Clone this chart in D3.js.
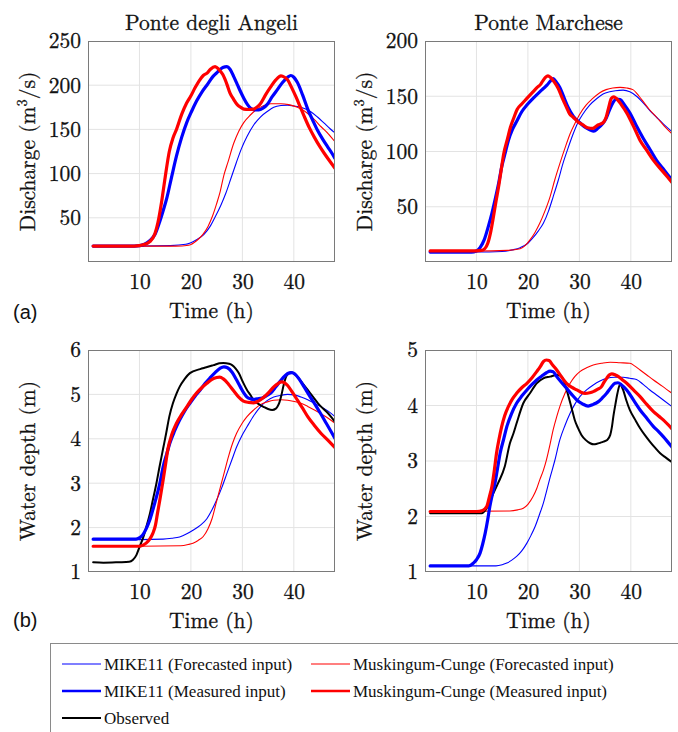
<!DOCTYPE html>
<html>
<head>
<meta charset="utf-8">
<script src="https://cdn.jsdelivr.net/npm/d3@7"></script>
<style>
  html, body { margin: 0; padding: 0; background: #fff; }
  svg { display: block; }
</style>
</head>
<body>
<svg id="chart" width="678" height="732"></svg>
<script>
// ---- Axis ticks ----
const hourTicks = [10, 20, 30, 40];
const angeliQTicks = [50, 100, 150, 200, 250];
const marcheseQTicks = [50, 100, 150, 200];
const angeliHTicks = [1, 2, 3, 4, 5, 6];
const marcheseHTicks = [1, 2, 3, 4, 5];

// ---- Ponte degli Angeli, discharge (m3/s): [hour, value] ----
const angeliQ_mikeFc = [[1,18],[10,18],[16,18.5],[19,20],[21,25],[22.5,31],[23.7,40],[24.8,52],[25.8,64],[26.8,78],[27.8,95],[28.8,112],[29.8,128],[30.9,142],[32.2,155],[33.5,164],[34.9,170.5],[36.1,175],[37.5,177],[38.8,177.5],[40,176.5],[41.4,175],[43.3,170],[44.6,164],[45.9,157],[47,151],[48,146]];
const angeliQ_mcFc = [[1,18],[10,18],[17,18],[19.6,19],[21.1,24],[22.3,31],[23.3,40],[24.2,52],[25,66],[25.7,80],[26.4,98],[27.2,113],[28.3,134],[29.3,148],[30.3,158],[31.5,166],[32.9,173],[34.2,177],[35.5,179],[37.5,179],[39,178],[40.7,175],[42.7,168],[44,161],[45.3,153],[46.7,145],[48,136]];
const angeliQ_mikeMs = [[1,18],[9,18],[10,18.5],[11,20],[12,24],[13,31],[13.9,45],[14.6,58],[15.3,72],[16.2,95],[17.2,120],[18.2,141],[19.2,158],[20.1,170],[21.1,182],[22.1,192],[23.1,200],[24.3,210],[25.2,215],[26.2,220],[27,221],[27.6,218],[28.3,210],[29,201],[29.7,192],[30.3,185],[31,178],[31.6,174],[32.4,172],[33.2,172],[34,174],[34.8,178],[35.8,187],[36.8,195],[37.8,203],[38.8,209],[39.4,211],[40,209],[40.7,203],[41.7,189],[42.7,173],[43.7,160],[44.6,149],[45.6,139],[46.6,130],[47.4,123],[48,117]];
const angeliQ_mcMs = [[1,18],[9,18],[10,18.5],[11,20],[12,23],[13,32],[13.6,45],[14.3,68],[15,96],[15.8,125],[16.5,140],[17.2,150],[18.2,167],[19.1,179],[20,188],[20.8,197],[21.6,205],[22.4,211],[23.2,214],[23.8,218],[24.7,221],[25.4,218],[26.2,212],[27,201],[27.6,191],[28.3,184],[29,178],[29.7,175],[30.3,173],[31.2,172.5],[32.2,173],[33,176],[33.5,179],[34.5,189],[35.5,198],[36.5,206],[37.5,210.5],[38.2,209],[38.8,206],[39.6,197],[40.4,187],[41.2,176],[42,165],[43,152],[44,141],[45,131],[45.9,123],[47,114],[48,106]];

// ---- Ponte Marchese, discharge (m3/s) ----
const marcheseQ_mikeFc = [[1,9],[10,9],[15,9.5],[17,11],[18.5,13],[20,17],[21,22],[22,28],[23,35],[24,46],[24.9,59],[25.9,74],[26.8,89],[27.8,103],[28.8,116],[29.7,126],[30.7,134],[32,142],[33.4,148],[34.6,152],[35.9,154],[37,155],[38.5,155.5],[39.8,154],[41.1,150],[42.4,144],[43.7,137],[45,131],[46.3,125],[48,118]];
const marcheseQ_mcFc = [[1,10],[10,10],[16,10.5],[18.5,12],[19.5,15],[20.4,20],[21.4,27],[22.3,35],[23.3,46],[24.3,59],[25.2,74],[26.2,89],[27.2,103],[28.2,116],[29.2,126],[30.1,134],[31.3,142],[32.6,148],[33.9,153],[35.2,156],[36.5,157.5],[37.9,158],[39.2,157.5],[40.4,156],[41.6,150],[42.6,144],[43.6,138],[45,131],[46.5,123],[48,116]];
const marcheseQ_mikeMs = [[1,9],[9,9],[10,10],[10.7,13],[11.5,20],[12.3,32],[13,44],[13.6,56],[14.3,71],[14.9,86],[15.6,99],[16.2,110],[17,120],[17.9,128],[18.8,136],[19.8,142],[21,148],[22.3,154],[23,157],[23.7,160],[24.4,164],[24.9,166],[25.5,163],[26.2,158],[27,149],[27.8,140],[28.8,132],[30.1,126],[31.1,122],[32.1,119.5],[32.8,118.5],[33.6,121],[34.5,125],[35.2,130],[35.8,137],[36.5,144],[37.2,147.5],[37.9,147],[38.8,142],[39.8,135],[41,124],[42.4,112],[43.7,102],[45,92],[46.5,83],[48,74]];
const marcheseQ_mcMs = [[1,10],[9,10],[11,10.5],[11.6,12],[12.2,17],[12.8,28],[13.3,41],[13.8,55],[14.3,68],[14.8,83],[15.3,98],[16,111],[16.6,122],[17.3,131],[17.9,138],[18.8,143],[19.8,148],[20.8,153],[21.8,158],[22.5,161],[22.9,164],[23.4,167],[23.9,168.5],[24.4,167],[25.1,163],[25.9,157],[26.7,148],[27.5,140],[28.1,134],[28.8,131],[29.7,127],[30.7,124],[31.6,121.5],[32.6,121],[33.6,124],[34.6,126],[35.2,131],[35.7,140],[36.2,148],[36.7,149.5],[37.2,148],[38.2,142],[39.2,135],[40.5,123],[41.8,110],[43.1,101],[44.4,92],[46.2,82],[48,72]];

// ---- Ponte degli Angeli, water depth (m) ----
const angeliH_obs = [[1,1.22],[3,1.21],[6,1.22],[8,1.23],[8.7,1.27],[9.4,1.38],[10,1.56],[10.7,1.77],[11.3,2.0],[12,2.3],[12.6,2.62],[13.3,3.0],[13.9,3.37],[14.6,3.78],[15.2,4.13],[15.8,4.5],[16.5,4.8],[17.2,5.02],[17.8,5.17],[18.8,5.35],[19.8,5.48],[21.8,5.57],[23,5.61],[24.4,5.66],[25.5,5.7],[26.3,5.71],[27.4,5.69],[28,5.66],[28.7,5.58],[29.3,5.48],[30.1,5.28],[30.9,5.1],[31.6,4.98],[32.2,4.87],[33.2,4.78],[34.1,4.72],[35,4.67],[35.8,4.65],[36.5,4.68],[36.8,4.72],[37.2,4.82],[37.5,4.94],[38,5.2],[38.5,5.4],[39,5.47],[39.4,5.5],[40,5.47],[40.7,5.4],[41.7,5.25],[42.7,5.1],[43.7,4.95],[44.7,4.8],[45.6,4.69],[46.6,4.58],[47.4,4.47],[48,4.38]];
const angeliH_mikeFc = [[1,1.73],[10,1.73],[14.6,1.74],[16.3,1.76],[17.8,1.79],[19.2,1.86],[20.4,1.94],[21.8,2.05],[23.1,2.2],[24.1,2.4],[25,2.62],[26,2.9],[27,3.22],[28,3.54],[28.9,3.82],[29.9,4.07],[30.9,4.27],[32.2,4.52],[33.5,4.72],[34.8,4.86],[36.1,4.94],[37.5,4.98],[38.8,5.0],[40.1,4.99],[41.4,4.94],[42.7,4.88],[44,4.8],[45.3,4.72],[46.6,4.63],[48,4.5]];
const angeliH_mcFc = [[1,1.58],[10,1.58],[18,1.59],[19.5,1.62],[20.4,1.65],[21.4,1.71],[22.4,1.8],[23.3,1.97],[24.1,2.2],[24.9,2.55],[25.7,2.9],[26.5,3.25],[27.3,3.6],[28.1,3.9],[28.9,4.13],[29.9,4.34],[30.9,4.5],[32.2,4.65],[33.5,4.77],[34.8,4.83],[36.1,4.87],[37.5,4.88],[38.8,4.87],[40.1,4.84],[41.4,4.8],[42.7,4.73],[44,4.65],[45.3,4.56],[46.6,4.47],[48,4.35]];
const angeliH_mikeMs = [[1,1.74],[9,1.74],[9.6,1.75],[10.6,1.83],[11.3,1.97],[12,2.17],[12.6,2.4],[13.3,2.69],[14,3.02],[14.6,3.37],[15.3,3.66],[15.9,3.9],[16.8,4.17],[17.8,4.42],[18.8,4.63],[19.8,4.8],[20.8,4.96],[21.8,5.1],[22.7,5.24],[23.7,5.37],[24.7,5.49],[25.7,5.59],[26.4,5.62],[27.1,5.6],[28,5.5],[28.8,5.34],[29.6,5.17],[30.3,5.03],[30.9,4.94],[31.6,4.9],[32.2,4.89],[33,4.9],[33.9,4.92],[34.7,4.97],[35.5,5.03],[36.5,5.17],[37.5,5.32],[38.3,5.42],[39,5.48],[39.6,5.49],[40.2,5.46],[41,5.35],[42,5.17],[43,4.98],[44,4.8],[45.2,4.57],[46.3,4.35],[47.2,4.17],[48,4.01]];
const angeliH_mcMs = [[1,1.58],[10,1.58],[10.6,1.6],[11.3,1.65],[12,1.74],[12.6,1.87],[13.1,2.05],[13.5,2.32],[14,2.65],[14.6,3.07],[15.1,3.45],[15.5,3.75],[16.3,4.1],[17.2,4.35],[18.2,4.55],[19.2,4.72],[20.1,4.88],[21.1,5.03],[22.1,5.15],[23.1,5.25],[24.1,5.34],[25,5.38],[25.6,5.39],[26.3,5.35],[27.3,5.23],[28.3,5.08],[29.2,4.95],[30.2,4.85],[31.2,4.82],[32.2,4.81],[33.1,4.85],[34.1,4.93],[35.1,5.04],[36.1,5.17],[37,5.25],[37.6,5.28],[38.2,5.26],[38.8,5.2],[39.7,5.05],[40.7,4.87],[41.7,4.69],[42.7,4.5],[44,4.3],[45.3,4.12],[46.7,3.96],[48,3.8]];

// ---- Ponte Marchese, water depth (m) ----
const marcheseH_obs = [[1,2.06],[11,2.06],[12,2.15],[13,2.36],[14.2,2.6],[15.5,2.9],[16.5,3.32],[17.2,3.5],[17.8,3.68],[19.1,4.04],[20.4,4.22],[21.7,4.4],[23,4.49],[24.3,4.52],[25.6,4.55],[26.3,4.54],[26.9,4.46],[27.4,4.32],[27.9,4.16],[28.5,3.95],[29.1,3.74],[29.7,3.6],[30.4,3.47],[31.2,3.38],[32.1,3.32],[32.8,3.3],[33.4,3.31],[34.1,3.33],[34.7,3.35],[35.4,3.38],[36,3.47],[36.3,3.6],[36.6,3.8],[37,4.02],[37.4,4.22],[37.9,4.38],[38.5,4.28],[39.1,4.1],[39.8,3.92],[40.8,3.75],[41.8,3.59],[42.7,3.47],[43.7,3.35],[44.7,3.24],[45.7,3.14],[46.8,3.06],[48,2.98]];
const marcheseH_mikeFc = [[1,1.11],[13.8,1.11],[15,1.13],[15.9,1.16],[16.8,1.21],[17.8,1.28],[18.8,1.38],[19.8,1.52],[20.6,1.66],[21.4,1.82],[22.3,2.05],[23,2.24],[23.6,2.45],[24.3,2.7],[25.2,3.0],[26.2,3.38],[27.2,3.64],[28.2,3.86],[29.1,4.02],[30.1,4.16],[31.4,4.28],[32.7,4.37],[34,4.44],[35.3,4.49],[36.9,4.51],[38.5,4.51],[39.8,4.49],[41.1,4.47],[42.4,4.38],[43.7,4.28],[45,4.19],[46.3,4.1],[48,3.98]];
const marcheseH_mcFc = [[1,2.09],[16.5,2.1],[18,2.12],[19.1,2.15],[20,2.22],[21,2.36],[21.7,2.5],[22.3,2.66],[23,2.83],[23.6,3.02],[24.3,3.3],[24.9,3.56],[25.6,3.8],[26.2,3.98],[27.2,4.22],[28.2,4.4],[29.1,4.52],[30.1,4.61],[31.4,4.68],[32.7,4.73],[34.3,4.76],[36,4.78],[37.9,4.77],[39.8,4.76],[40.8,4.71],[41.8,4.64],[43.1,4.55],[44.4,4.46],[46.1,4.35],[48,4.22]];
const marcheseH_mikeMs = [[1,1.11],[8.5,1.11],[9.4,1.16],[10,1.22],[10.7,1.34],[11.2,1.5],[11.7,1.7],[12.2,1.95],[12.6,2.18],[13.1,2.4],[13.6,2.6],[14.1,2.87],[14.6,3.14],[15.3,3.4],[15.9,3.62],[16.8,3.85],[17.8,4.04],[18.8,4.17],[19.8,4.28],[20.8,4.38],[21.7,4.46],[22.7,4.53],[23.6,4.59],[24.3,4.62],[24.9,4.61],[25.6,4.52],[26.5,4.42],[27.5,4.31],[28.5,4.2],[29.5,4.1],[30.6,4.03],[31.7,3.99],[32.7,4.02],[33.7,4.07],[34.5,4.14],[35.3,4.22],[36.1,4.32],[36.9,4.4],[37.5,4.41],[38.2,4.37],[39.2,4.28],[40.5,4.1],[41.8,3.92],[43.1,3.77],[44.4,3.62],[45.4,3.53],[46.3,3.44],[48,3.25]];
const marcheseH_mcMs = [[1,2.09],[10,2.09],[11.2,2.11],[12,2.18],[12.5,2.35],[13,2.54],[13.5,2.85],[13.9,3.14],[14.4,3.4],[14.9,3.62],[15.5,3.82],[16.2,3.98],[17,4.12],[17.8,4.22],[18.8,4.32],[19.8,4.4],[20.8,4.5],[21.7,4.61],[22.4,4.7],[23,4.79],[23.6,4.82],[24.1,4.81],[24.8,4.73],[25.6,4.64],[26.5,4.52],[27.5,4.4],[28.5,4.33],[29.5,4.28],[30.3,4.24],[31.1,4.22],[32,4.23],[32.7,4.25],[33.5,4.29],[34.3,4.34],[34.8,4.42],[35.3,4.49],[35.8,4.55],[36.3,4.57],[37,4.55],[37.6,4.52],[38.4,4.46],[39.2,4.4],[40.5,4.28],[41.8,4.16],[43.1,4.02],[44.4,3.89],[45.4,3.81],[46.3,3.74],[48,3.58]];

// ---- Series styling (legend order) ----
const seriesNames = ["MIKE11 (Forecasted input)", "Muskingum-Cunge (Forecasted input)", "MIKE11 (Measured input)", "Muskingum-Cunge (Measured input)", "Observed"];
const seriesColors = ["#0000ff", "#ff0000", "#0000ff", "#ff0000", "#000000"];
const seriesWidths = [1.1, 1.1, 3.2, 3.2, 2];

const LM = '"Latin Modern Roman", "Liberation Serif", serif';
const TIMES = '"Liberation Serif", "Tinos", serif';
const SANS = '"Liberation Sans", Arimo, sans-serif';
const FS = 21.5;

const svg = d3.select("#chart");

// shared text styling: slight outline so the thin serif strokes read like the printed figure
function styleText(sel, family, size) {
  return sel.style("font-family", family).style("font-size", size + "px")
    .attr("fill", "#111").attr("stroke", "#111").attr("stroke-width", 0.3);
}

const panels = [
  { id: "aL", x0: 88, x1: 335, y0: 41, y1: 262, domain: [0, 250], ticks: angeliQTicks,
    title: "Ponte degli Angeli", ylab: "q", lines: [angeliQ_mikeFc, angeliQ_mcFc, angeliQ_mikeMs, angeliQ_mcMs, null] },
  { id: "aR", x0: 425, x1: 672, y0: 41, y1: 262, domain: [0, 200], ticks: marcheseQTicks,
    title: "Ponte Marchese", ylab: "q", lines: [marcheseQ_mikeFc, marcheseQ_mcFc, marcheseQ_mikeMs, marcheseQ_mcMs, null] },
  { id: "bL", x0: 88, x1: 335, y0: 350, y1: 572, domain: [1, 6], ticks: angeliHTicks,
    title: null, ylab: "h", lines: [angeliH_mikeFc, angeliH_mcFc, angeliH_mikeMs, angeliH_mcMs, angeliH_obs] },
  { id: "bR", x0: 425, x1: 672, y0: 350, y1: 572, domain: [1, 5], ticks: marcheseHTicks,
    title: null, ylab: "h", lines: [marcheseH_mikeFc, marcheseH_mcFc, marcheseH_mikeMs, marcheseH_mcMs, marcheseH_obs] }
];

// draw order: thin lines, observed, then measured-input lines
const drawOrder = [0, 1, 4, 2, 3];

panels.forEach(p => {
  const x = d3.scaleLinear().domain([0, 48]).range([p.x0, p.x1]);
  const y = d3.scaleLinear().domain(p.domain).range([p.y1, p.y0]);
  const g = svg.append("g");

  g.append("clipPath").attr("id", "clip-" + p.id)
    .append("rect").attr("x", p.x0).attr("y", p.y0)
    .attr("width", p.x1 - p.x0).attr("height", p.y1 - p.y0);

  // grid
  g.append("g").selectAll("line").data(hourTicks).join("line")
    .attr("x1", d => x(d)).attr("x2", d => x(d))
    .attr("y1", p.y0).attr("y2", p.y1)
    .attr("stroke", "#e3e3e3").attr("stroke-width", 1);
  g.append("g").selectAll("line").data(p.ticks.filter(t => t > p.domain[0] && t < p.domain[1])).join("line")
    .attr("x1", p.x0).attr("x2", p.x1)
    .attr("y1", d => y(d)).attr("y2", d => y(d))
    .attr("stroke", "#e3e3e3").attr("stroke-width", 1);

  // axes: tick labels only (box drawn separately)
  const xAxis = d3.axisBottom(x).tickValues(hourTicks).tickFormat(d3.format("d")).tickSize(0).tickPadding(12);
  const gx = g.append("g").attr("transform", `translate(0,${p.y1})`).call(xAxis);
  const yAxis = d3.axisLeft(y).tickValues(p.ticks).tickFormat(d3.format("d")).tickSize(0).tickPadding(7);
  const gy = g.append("g").attr("transform", `translate(${p.x0},0)`).call(yAxis);
  [gx, gy].forEach(a => {
    a.attr("font-family", null).attr("font-size", null);
    a.select(".domain").remove();
    styleText(a.selectAll("text"), LM, FS);
  });

  // series
  const line = d3.line().x(d => x(d[0])).y(d => y(d[1])).curve(d3.curveMonotoneX);
  const lg = g.append("g").attr("clip-path", `url(#clip-${p.id})`);
  drawOrder.forEach(i => {
    if (!p.lines[i]) return;
    lg.append("path").datum(p.lines[i])
      .attr("d", line).attr("fill", "none")
      .attr("stroke", seriesColors[i]).attr("stroke-width", seriesWidths[i])
      .attr("stroke-linejoin", "round").attr("stroke-linecap", "round");
  });

  // box
  g.append("rect").attr("x", p.x0 + 0.5).attr("y", p.y0 + 0.5)
    .attr("width", p.x1 - p.x0 - 1).attr("height", p.y1 - p.y0 - 1)
    .attr("fill", "none").attr("stroke", "#7a7a7a").attr("stroke-width", 1);

  // title
  if (p.title) {
    styleText(g.append("text").attr("x", (p.x0 + p.x1) / 2).attr("y", 22)
      .attr("dy", "0.35em").attr("text-anchor", "middle"), LM, FS)
      .text(p.title);
  }

  // x label
  styleText(g.append("text").attr("x", (p.x0 + p.x1) / 2).attr("y", p.y1 + 48)
    .attr("dy", "0.35em").attr("text-anchor", "middle"), LM, FS)
    .text("Time (h)");

  // y label
  const yl = styleText(g.append("text")
    .attr("transform", `translate(${p.x0 - 61},${(p.y0 + p.y1) / 2}) rotate(-90)`)
    .attr("dy", "0.35em").attr("text-anchor", "middle"), LM, FS);
  if (p.ylab === "q") {
    yl.append("tspan").text("Discharge (m");
    yl.append("tspan").style("font-size", "14.5px").attr("dy", "-0.55em").text("3");
    yl.append("tspan").attr("dy", "0.4em").text("/s)");
  } else {
    yl.text("Water depth (m)");
  }
});

// panel letters
svg.append("text").attr("x", 13).attr("y", 312).attr("dy", "0.35em")
  .style("font-family", SANS).style("font-size", "20px").attr("fill", "#111").text("(a)");
svg.append("text").attr("x", 13).attr("y", 620).attr("dy", "0.35em")
  .style("font-family", SANS).style("font-size", "20px").attr("fill", "#111").text("(b)");

// legend
const legend = svg.append("g");
legend.append("rect").attr("x", 50.5).attr("y", 643.5).attr("width", 660).attr("height", 120)
  .attr("fill", "#fff").attr("stroke", "#8a8a8a").attr("stroke-width", 1);
const legendSlots = [
  { col: 0, row: 0 }, { col: 1, row: 0 }, { col: 0, row: 1 }, { col: 1, row: 1 }, { col: 0, row: 2 }
];
const colX = [62, 311];
const rowY = [664, 691, 718];
seriesNames.forEach((name, i) => {
  const s = legendSlots[i];
  const lx = colX[s.col], ly = rowY[s.row];
  legend.append("line").attr("x1", lx).attr("x2", lx + 39).attr("y1", ly).attr("y2", ly)
    .attr("stroke", seriesColors[i]).attr("stroke-width", Math.min(seriesWidths[i], 2.5));
  legend.append("text").attr("x", lx + 42).attr("y", ly).attr("dy", "0.35em")
    .style("font-family", TIMES).style("font-size", "17px").attr("fill", "#111").text(name);
});
</script>
</body>
</html>
